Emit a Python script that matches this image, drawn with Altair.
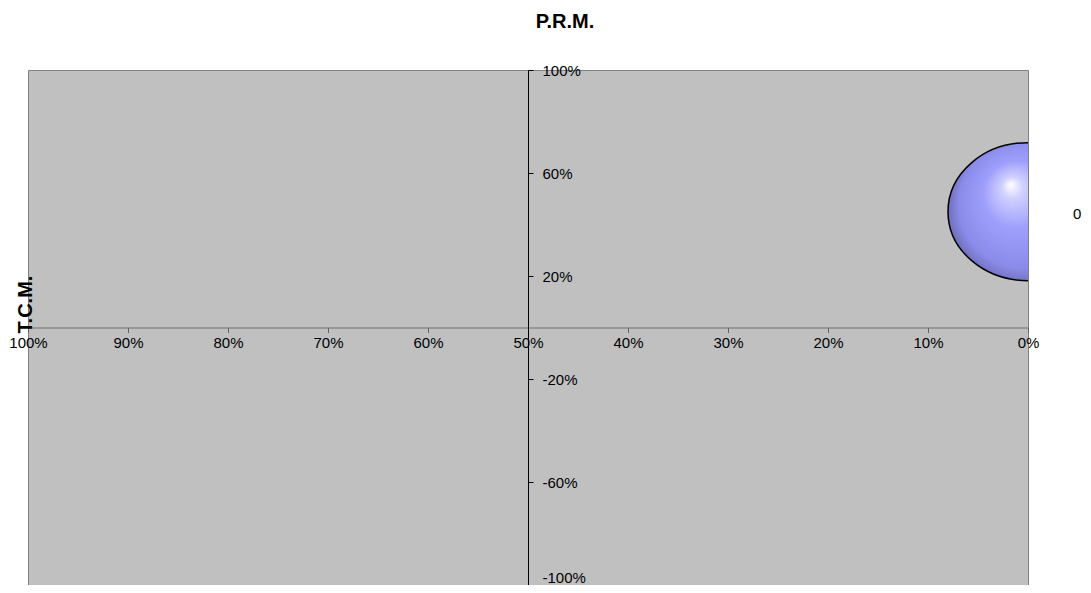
import altair as alt
import pandas as pd

# ---- data ----
series = ["0"]
prm = [0.0]        # P.R.M. (x)
tcm = [0.45]       # T.C.M. (y)
bubble = [1.0]     # bubble size

x_ticks = [0.0, 0.1, 0.2, 0.3, 0.4, 0.5, 0.6, 0.7, 0.8, 0.9, 1.0]
y_ticks = [-1.0, -0.6, -0.2, 0.2, 0.6, 1.0]

df = pd.DataFrame({"series": series, "prm": prm, "tcm": tcm, "bubble": bubble})

FONT = "Liberation Sans"
ellipse = "M-1,0A1,0.8625,0,1,1,1,0A1,0.8625,0,1,1,-1,0Z"
grad = {
    "gradient": "radial",
    "x1": 0.39, "y1": 0.33, "r1": 0,
    "x2": 0.5, "y2": 0.5, "r2": 0.56,
    "stops": [
        {"offset": 0.0, "color": "#ffffff"},
        {"offset": 0.12, "color": "#d0d0ff"},
        {"offset": 0.38, "color": "#9e9efc"},
        {"offset": 0.72, "color": "#8a8ae8"},
        {"offset": 0.88, "color": "#6c6cb4"},
        {"offset": 1.0, "color": "#4c4c78"},
    ],
}

label_expr = "replace(datum.label, '\u2212', '-')"

chart = alt.Chart(df).mark_point(
    filled=True, fill=grad, stroke="black", strokeWidth=1.5,
    opacity=1, fillOpacity=1, strokeOpacity=1, clip=True
).encode(
    x=alt.X("prm:Q",
            scale=alt.Scale(domain=[0, 1], reverse=True, nice=False, zero=False),
            axis=alt.Axis(orient="bottom", offset=-257.5, values=x_ticks, format=".0%",
                          grid=False, title=None, labelFont=FONT, labelFontSize=15,
                          labelColor="black", labelFlush=False, labelOverlap=False,
                          tickSize=5, tickColor="#606060", domainColor="#707070",
                          labelPadding=3)),
    y=alt.Y("tcm:Q",
            scale=alt.Scale(domain=[-1, 1], nice=False, zero=False),
            axis=alt.Axis(orient="right", offset=-500, values=y_ticks, format=".0%",
                          labelExpr=label_expr,
                          grid=False, title="T.C.M.", titleX=-503, titleY=234,
                          titleAngle=270, titleAlign="center", titleBaseline="middle",
                          titleFont=FONT, titleFontSize=20, titleFontWeight="bold",
                          titleColor="black",
                          labelFont=FONT, labelFontSize=15, labelColor="black",
                          labelFlush=False, labelOverlap=False,
                          labelBaseline={"condition": {"test": "datum.value <= -1", "value": "bottom"},
                                         "value": "middle"},
                          tickSize=5, tickColor="black", domainColor="black",
                          labelPadding=9)),
    size=alt.Size("bubble:Q", scale=alt.Scale(domain=[0, 1], range=[0, 25600]), legend=None),
    shape=alt.Shape("series:N", scale=alt.Scale(range=[ellipse]),
                    legend=alt.Legend(title=None, orient="none", legendX=1028, legendY=136,
                                      symbolOpacity=0, symbolSize=1, symbolStrokeWidth=0,
                                      labelFont=FONT, labelFontSize=15, labelColor="black",
                                      padding=0, labelOffset=2)),
).properties(
    width=1000,
    height=515,
    title=alt.TitleParams("P.R.M.", font=FONT, fontSize=20, fontWeight="bold",
                          color="black", anchor="middle", frame="group", dx=37,
                          offset=31),
    autosize=alt.AutoSizeParams(type="none"),
    padding={"left": 20, "top": 62, "right": 55, "bottom": 0},
    background="white",
).configure_view(
    fill="#C0C0C0", stroke="#808080", strokeWidth=1
)

chart.save("out.html", embed_options={"renderer": "svg", "actions": False})
